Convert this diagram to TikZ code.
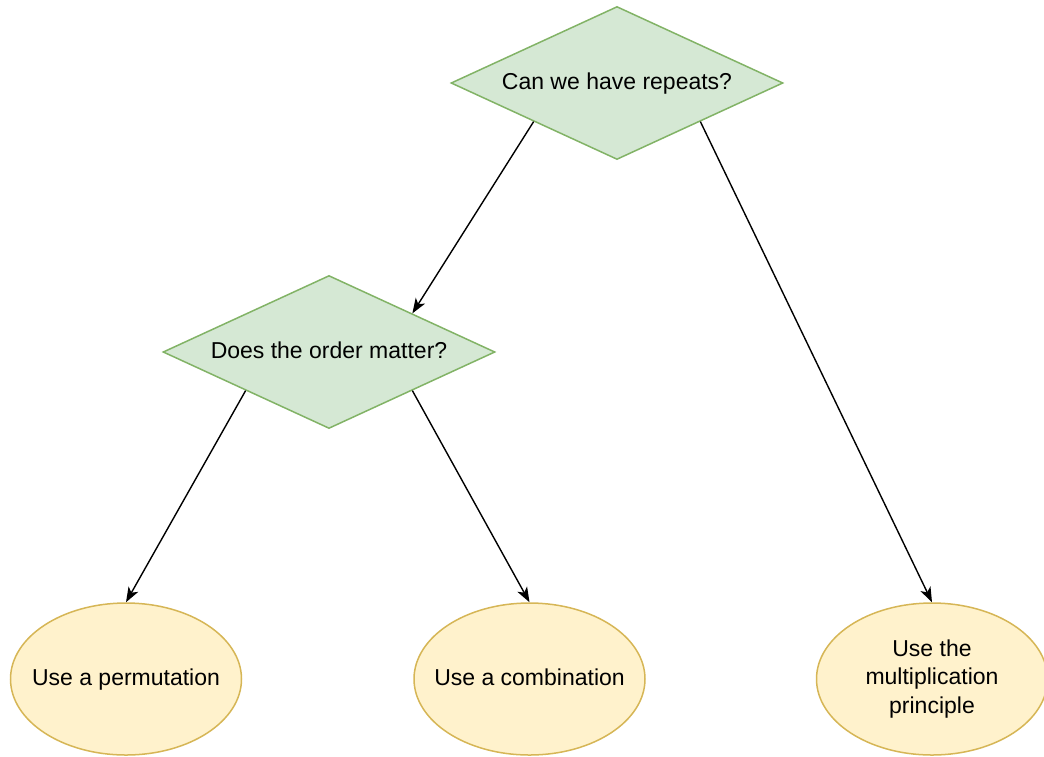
\documentclass[tikz,border=0pt]{standalone}
\usepackage{fontspec}
\setmainfont{Liberation Sans}
\usetikzlibrary{shapes.geometric, arrows.meta}
\definecolor{qfill}{RGB}{213, 232, 212}
\definecolor{qline}{RGB}{130, 179, 102}
\definecolor{afill}{RGB}{255, 242, 204}
\definecolor{aline}{RGB}{214, 182, 86}

\tikzset{
  question/.style={diamond, aspect=2.16, inner sep=0pt, fill=qfill, draw=qline,
    line width=1.5pt, minimum width=332pt, minimum height=153pt,
    text height=17pt, text depth=4.5pt},
  answer/.style={ellipse, inner xsep=-30pt, inner ysep=0pt, fill=afill, draw=aline,
    line width=1.5pt, minimum width=231pt, minimum height=152pt, align=center},
  oneline/.style={text height=17pt, text depth=4.5pt},
  link/.style={line width=1.4pt, -{Stealth[length=15pt, width=11pt, inset=4pt]}}
}

\begin{document}
\begin{tikzpicture}[x=1pt, y=-1pt, font=\fontsize{23}{28.5}\selectfont]
      \useasboundingbox (0,0) rectangle (1044,756);
      % questions
      \node[question] (repeats) at (617,83) {Can we have repeats?};
      \node[question] (order) at (329,352) {Does the order matter?};
      % answers
      \node[answer, oneline] (perm) at (126,679) {Use a permutation};
      \node[answer, oneline] (comb) at (529.5,679) {Use a combination};
      \node[answer] (mult) at (932,679) {Use the\\multiplication\\principle};
      % links
      \draw[link] (repeats.south west) -- (order.north east);
      \draw[link] (repeats.south east) -- (mult.north);
      \draw[link] (order.south west) -- (perm.north);
      \draw[link] (order.south east) -- (comb.north);
    \end{tikzpicture}
\end{document}
